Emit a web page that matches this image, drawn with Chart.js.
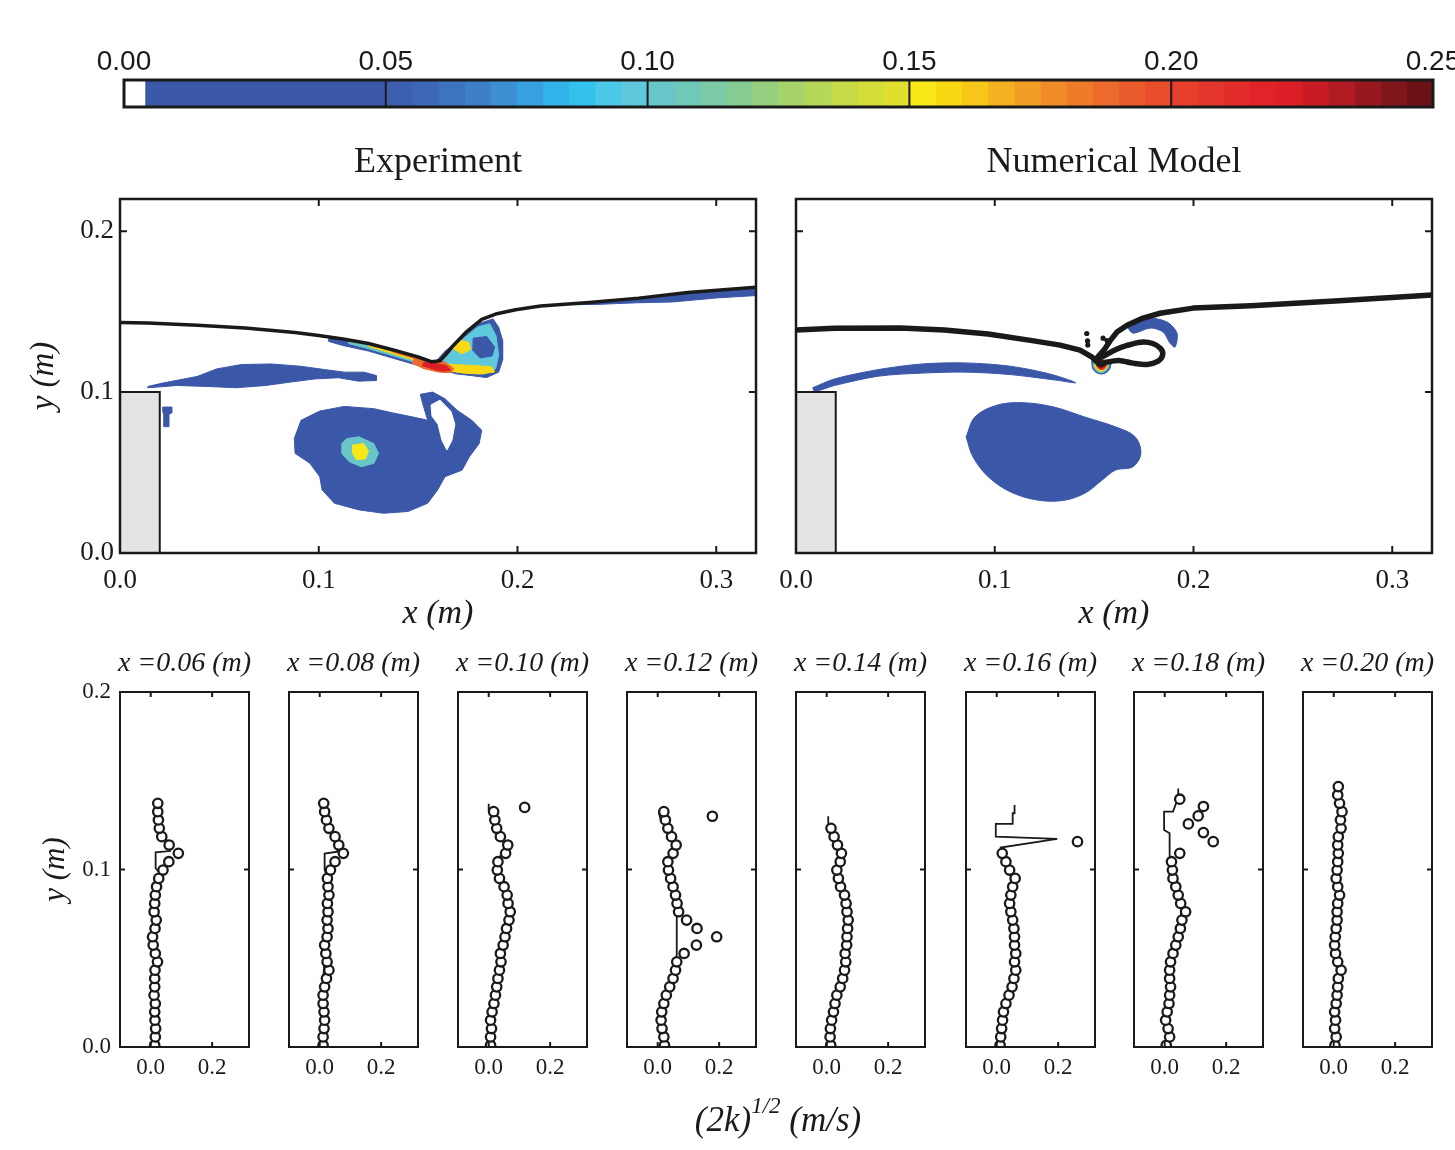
<!DOCTYPE html>
<html>
<head>
<meta charset="utf-8">
<title>Turbulence intensity behind a submerged step</title>
<script src="https://cdn.jsdelivr.net/npm/chart.js@4.4.1/dist/chart.umd.min.js"></script>
<style>
  html, body { margin: 0; padding: 0; background: #fff; overflow: hidden; }
  #fig { position: relative; width: 1455px; height: 1150px; overflow: hidden; background: #fff; }
  #fig canvas { position: absolute; }
</style>
</head>
<body>
<div id="fig"></div>
<script>
// ---------------- colour scale of (2k)^1/2 ----------------
const cbBounds = [0, 0.004, 0.05,
  0.055, 0.06, 0.065, 0.07, 0.075, 0.08, 0.085, 0.09, 0.095, 0.10,
  0.105, 0.11, 0.115, 0.12, 0.125, 0.13, 0.135, 0.14, 0.145, 0.15,
  0.155, 0.16, 0.165, 0.17, 0.175, 0.18, 0.185, 0.19, 0.195, 0.20,
  0.205, 0.21, 0.215, 0.22, 0.225, 0.23, 0.235, 0.24, 0.245, 0.25];
const cbColors = ['#ffffff', '#3b57a8',
  '#3c5fb0', '#3d68b8', '#3e73c0', '#3d80c8', '#3b8fd2', '#37a0de', '#31b4ea', '#33c2ee', '#4cc7e8', '#5fc8dc',
  '#68c6c8', '#70c8b8', '#7acaa6', '#86cc92', '#96cf7e', '#a6d36a', '#b6d658', '#c6da48', '#d4dd3a', '#e0df30',
  '#f8e818', '#f8d812', '#f6c618', '#f4b220', '#f29e24', '#f08c28', '#ee7a2a', '#ec6a2c', '#ea5c2c', '#e84e2c',
  '#e6402c', '#e4362c', '#e22c2a', '#e02428', '#dc1e26', '#c81c24', '#b01a22', '#981820', '#80161c', '#6a1216'];
const cbTicks = [0, 0.05, 0.10, 0.15, 0.20, 0.25];

// ---------------- axes of the field plots and profiles ----------------
const fieldXTicks = [0, 0.1, 0.2, 0.3];
const fieldYTicks = [0, 0.1, 0.2];
const profXTicks = [0, 0.2];
const profYTicks = [0, 0.1, 0.2];
const panelTitles = ['Experiment', 'Numerical Model'];

// step (obstacle) outline, x and y in metres
const stepBlock = [[0, 0], [0.02, 0], [0.02, 0.1], [0, 0.1]];

// ---------------- measured field (left panel) ----------------
const expSurface = [[0, 0.1433], [0.014, 0.1429], [0.039, 0.1416], [0.063, 0.1398], [0.088, 0.1371], [0.1, 0.1352],
  [0.113, 0.1328], [0.125, 0.1302], [0.1375, 0.1262], [0.15, 0.1218], [0.157, 0.1188], [0.161, 0.1195], [0.164, 0.1235],
  [0.167, 0.128], [0.1746, 0.1378], [0.182, 0.1452], [0.189, 0.1485], [0.199, 0.1512], [0.2116, 0.1535], [0.236, 0.1557],
  [0.261, 0.1584], [0.2857, 0.1619], [0.32, 0.1652]];
const expStreak = [[0.014, 0.1035], [0.0215, 0.1056], [0.0388, 0.1097], [0.0486, 0.1144], [0.061, 0.1171], [0.0758, 0.1175],
  [0.0906, 0.1161], [0.103, 0.114], [0.1128, 0.1124], [0.1227, 0.1124], [0.1289, 0.1103], [0.1289, 0.1072], [0.12, 0.1068],
  [0.11, 0.1089], [0.098, 0.1082], [0.0857, 0.1062], [0.0733, 0.1041], [0.0585, 0.1027], [0.0437, 0.1035], [0.0289, 0.1041],
  [0.014, 0.1027]];
const expSpeck = [[0.0215, 0.0907], [0.026, 0.0907], [0.026, 0.087], [0.0245, 0.086], [0.0245, 0.0785], [0.022, 0.0785],
  [0.022, 0.086], [0.0215, 0.088]];
const expVortex = [[0.0877, 0.0711], [0.0911, 0.0825], [0.1005, 0.0882], [0.1128, 0.0911], [0.1277, 0.0897], [0.1375, 0.087],
  [0.1474, 0.0845], [0.1548, 0.0825], [0.1523, 0.0928], [0.1511, 0.0986], [0.1573, 0.1], [0.1635, 0.0959], [0.1696, 0.0887],
  [0.177, 0.0825], [0.182, 0.0763], [0.1807, 0.068], [0.1758, 0.0598], [0.1721, 0.0515], [0.1635, 0.0474], [0.1598, 0.0392],
  [0.1548, 0.0309], [0.1449, 0.0258], [0.1326, 0.0247], [0.1202, 0.0268], [0.1079, 0.0309], [0.1017, 0.0392], [0.1005, 0.0474],
  [0.0956, 0.0557], [0.0881, 0.0619]];
const expVortexGap = [[0.1565, 0.092], [0.161, 0.095], [0.1665, 0.088], [0.1685, 0.08], [0.167, 0.07], [0.1645, 0.064],
  [0.162, 0.07], [0.16, 0.08], [0.157, 0.085]];
const expCoreMid = [[0.1116, 0.068], [0.1141, 0.0711], [0.1202, 0.0722], [0.1277, 0.068], [0.1301, 0.0619], [0.1277, 0.0557],
  [0.1215, 0.0536], [0.1153, 0.0567], [0.1116, 0.0619]];
const expCoreHigh = [[0.117, 0.067], [0.1225, 0.068], [0.125, 0.0635], [0.1235, 0.0585], [0.119, 0.058], [0.117, 0.062]];
const expBreakOuter = [[0.1585, 0.1186], [0.1636, 0.1255], [0.1721, 0.134], [0.1802, 0.1425], [0.1877, 0.1455], [0.1905, 0.1404],
  [0.1925, 0.1323], [0.1925, 0.1199], [0.1905, 0.1124], [0.1845, 0.109], [0.1772, 0.1102], [0.1686, 0.1114], [0.16, 0.1155]];
const expBreakMid = [[0.161, 0.1195], [0.166, 0.1262], [0.173, 0.1335], [0.18, 0.1405], [0.186, 0.1425], [0.1892, 0.135],
  [0.1905, 0.123], [0.189, 0.1145], [0.1835, 0.1112], [0.175, 0.1122], [0.167, 0.1132], [0.1615, 0.1165]];
const expBreakHighA = [[0.1675, 0.127], [0.171, 0.1322], [0.1755, 0.131], [0.1765, 0.1265], [0.172, 0.1238]];
const expBreakHighB = [[0.163, 0.1175], [0.17, 0.117], [0.178, 0.1165], [0.187, 0.1158], [0.1885, 0.1125], [0.181, 0.1112],
  [0.172, 0.1119], [0.165, 0.1132], [0.162, 0.1155]];
const expBreakLow = [[0.1777, 0.1335], [0.1845, 0.1345], [0.1885, 0.128], [0.1872, 0.1225], [0.1812, 0.1212], [0.1775, 0.126]];
const expShearLow = [[0.105, 0.1335], [0.125, 0.1295], [0.1375, 0.1255], [0.15, 0.121], [0.157, 0.118], [0.158, 0.1145],
  [0.15, 0.1165], [0.1375, 0.121], [0.125, 0.1255], [0.112, 0.129], [0.105, 0.1315]];
const expShearMid = [[0.115, 0.1318], [0.125, 0.1297], [0.1375, 0.1257], [0.15, 0.1212], [0.157, 0.1182], [0.157, 0.1155],
  [0.15, 0.118], [0.1375, 0.1225], [0.125, 0.127], [0.115, 0.1302]];
const expShearHigh = [[0.125, 0.1298], [0.1375, 0.1258], [0.15, 0.1213], [0.157, 0.1183], [0.157, 0.1165], [0.15, 0.1192],
  [0.1375, 0.1238], [0.125, 0.1285]];
const expShearTop = [[0.137, 0.1259], [0.15, 0.1214], [0.157, 0.1184], [0.157, 0.1172], [0.15, 0.1202], [0.137, 0.125]];
const expJetHalo = [[0.148, 0.1205], [0.156, 0.1195], [0.163, 0.119], [0.168, 0.1145], [0.166, 0.112], [0.16, 0.1125],
  [0.153, 0.1145], [0.147, 0.118]];
const expJetCore = [[0.153, 0.1185], [0.158, 0.118], [0.164, 0.1165], [0.1665, 0.1135], [0.162, 0.113], [0.157, 0.1145],
  [0.152, 0.1165]];
const expCrestBand = [[0.228, 0.1548], [0.261, 0.1582], [0.2857, 0.1617], [0.32, 0.165], [0.32, 0.16], [0.3, 0.1585],
  [0.278, 0.156], [0.26, 0.1555], [0.24, 0.1545], [0.228, 0.1543]];

// ---------------- computed field (right panel) ----------------
const numSurface = [[0, 0.1386], [0.0194, 0.1396], [0.0525, 0.1398], [0.0746, 0.1386], [0.0967, 0.1361], [0.1188, 0.132],
  [0.1329, 0.1292], [0.1429, 0.1261], [0.149, 0.1217], [0.1505, 0.1199], [0.155, 0.1262], [0.158, 0.1318], [0.1615, 0.1373],
  [0.1666, 0.1416], [0.1746, 0.146], [0.1832, 0.149], [0.1998, 0.1522], [0.229, 0.1536], [0.2733, 0.1567], [0.3212, 0.1604]];
const numLoop = [[0.1505, 0.1199], [0.155, 0.1225], [0.1605, 0.1262], [0.1666, 0.129], [0.1735, 0.131], [0.1795, 0.1302],
  [0.1835, 0.127], [0.1845, 0.1232], [0.1822, 0.1192], [0.1766, 0.1172], [0.1696, 0.118], [0.1625, 0.1196], [0.1565, 0.1186],
  [0.153, 0.1172], [0.1505, 0.1199]];
const numSplash = [[0.1463, 0.1364], [0.1467, 0.1318], [0.1468, 0.1292], [0.1545, 0.1335], [0.1565, 0.132]];
const numShear = [[0.0084, 0.1027], [0.0194, 0.1082], [0.0415, 0.114], [0.0636, 0.1175], [0.0856, 0.1181], [0.1077, 0.1161],
  [0.1276, 0.1113], [0.1408, 0.1058], [0.1298, 0.1076], [0.1077, 0.1109], [0.0856, 0.1124], [0.0636, 0.1118], [0.0415, 0.1099],
  [0.0194, 0.1041], [0.0095, 0.1004]];
const numVortex = [[0.0856, 0.0722], [0.09, 0.0845], [0.101, 0.0918], [0.1143, 0.0934], [0.1298, 0.0907], [0.1453, 0.0845],
  [0.1607, 0.0784], [0.1706, 0.0722], [0.1735, 0.0619], [0.1695, 0.0536], [0.1607, 0.0515], [0.1541, 0.0454], [0.1453, 0.0371],
  [0.1342, 0.0326], [0.121, 0.033], [0.1077, 0.0381], [0.0967, 0.0474], [0.089, 0.0598]];
const numCurl = [[0.1666, 0.1404], [0.1766, 0.146], [0.1867, 0.1435], [0.1917, 0.1366], [0.1907, 0.128], [0.1882, 0.1304],
  [0.1847, 0.1373], [0.1782, 0.1398], [0.1696, 0.1366]];
const numJetRings = [
  { level: 0.03,  shape: [[0.1488, 0.1195], [0.1492, 0.1148], [0.151, 0.1122], [0.1535, 0.1112], [0.1562, 0.1122], [0.158, 0.1148], [0.1582, 0.1195]] },
  { level: 0.10,  shape: [[0.1495, 0.1195], [0.1499, 0.1152], [0.1515, 0.1129], [0.1535, 0.112], [0.1556, 0.1129], [0.1572, 0.1152], [0.1575, 0.1195]] },
  { level: 0.155, shape: [[0.1502, 0.1195], [0.1506, 0.1157], [0.152, 0.1136], [0.1535, 0.1129], [0.155, 0.1136], [0.1565, 0.1157], [0.1568, 0.1195]] },
  { level: 0.22,  shape: [[0.151, 0.1195], [0.1513, 0.1162], [0.1525, 0.1145], [0.1537, 0.114], [0.1549, 0.1145], [0.156, 0.1162], [0.156, 0.1195]] },
  { level: 0.245, shape: [[0.1518, 0.1195], [0.152, 0.1168], [0.153, 0.1155], [0.154, 0.1155], [0.155, 0.1168], [0.155, 0.1195]] }
];

// ---------------- vertical profiles of (2k)^1/2 ----------------
const stations = [0.06, 0.08, 0.10, 0.12, 0.14, 0.16, 0.18, 0.20];
// measurement heights (m) shared by all stations
const yGrid = [0.001, 0.0057, 0.0104, 0.0151, 0.0198, 0.0245, 0.0292, 0.0339, 0.0386, 0.0433, 0.048, 0.0527, 0.0574,
  0.0621, 0.0668, 0.0715, 0.0762, 0.0809, 0.0856, 0.0903, 0.095, 0.0997, 0.1044, 0.1091, 0.1138, 0.1185, 0.1232, 0.1279,
  0.1326, 0.1373, 0.142, 0.1467];
// measured (2k)^1/2 at the heights above, bottom up
const obs06 = [0.013, 0.015, 0.016, 0.014, 0.013, 0.015, 0.011, 0.013, 0.013, 0.014, 0.022, 0.015, 0.008, 0.006, 0.014, 0.018,
  0.011, 0.013, 0.015, 0.019, 0.026, 0.04, 0.059, 0.09, 0.06, 0.036, 0.028, 0.025, 0.023, 0.023];
const obs08 = [0.011, 0.011, 0.014, 0.016, 0.014, 0.011, 0.011, 0.016, 0.022, 0.03, 0.024, 0.02, 0.016, 0.024, 0.027, 0.024,
  0.027, 0.025, 0.03, 0.027, 0.025, 0.035, 0.05, 0.077, 0.062, 0.05, 0.03, 0.022, 0.016, 0.013];
const obs10 = [0.006, 0.006, 0.009, 0.006, 0.011, 0.017, 0.022, 0.026, 0.03, 0.035, 0.04, 0.038, 0.047, 0.053, 0.058, 0.066,
  0.07, 0.063, 0.06, 0.05, 0.035, 0.028, 0.03, 0.055, 0.062, 0.038, 0.026, 0.02, 0.016];
const obs12 = [0.022, 0.02, 0.014, 0.011, 0.013, 0.02, 0.028, 0.039, 0.05, 0.058, 0.062, 0.086, 0.126, 0.192, 0.128, 0.094,
  0.068, 0.063, 0.058, 0.05, 0.042, 0.035, 0.033, 0.05, 0.06, 0.045, 0.033, 0.025, 0.02];
const obs14 = [0.013, 0.011, 0.012, 0.016, 0.022, 0.027, 0.033, 0.044, 0.052, 0.058, 0.062, 0.06, 0.065, 0.066, 0.068, 0.07,
  0.066, 0.063, 0.058, 0.045, 0.038, 0.033, 0.044, 0.048, 0.035, 0.024, 0.014];
const obs16 = [0.011, 0.013, 0.016, 0.019, 0.022, 0.03, 0.04, 0.05, 0.056, 0.062, 0.058, 0.062, 0.058, 0.058, 0.056, 0.052,
  0.046, 0.042, 0.046, 0.052, 0.06, 0.042, 0.03, 0.018];
const obs18 = [0.005, 0.016, 0.011, 0.003, 0.008, 0.014, 0.016, 0.019, 0.016, 0.016, 0.019, 0.027, 0.036, 0.044, 0.051, 0.056,
  0.068, 0.052, 0.044, 0.036, 0.027, 0.025, 0.022, 0.049];
const obs20 = [0.004, 0.008, 0.003, 0.006, 0.003, 0.008, 0.011, 0.013, 0.015, 0.024, 0.013, 0.006, 0.003, 0.005, 0.008, 0.011,
  0.011, 0.013, 0.019, 0.013, 0.008, 0.011, 0.013, 0.015, 0.013, 0.015, 0.024, 0.022, 0.027, 0.019, 0.013, 0.015];
// scattered measurements in the aerated crest, [(2k)^1/2, y]
const spray10 = [[0.117, 0.135]];
const spray12 = [[0.178, 0.13]];
const spray16 = [[0.263, 0.1157]];
const spray18 = [[0.158, 0.1157], [0.126, 0.1208], [0.077, 0.1257], [0.109, 0.1302], [0.126, 0.1355], [0.049, 0.1396]];
// model profiles, [(2k)^1/2, y]
const model06 = [[0.013, 0], [0.016, 0.017], [0.014, 0.036], [0.016, 0.055], [0.019, 0.073], [0.024, 0.092], [0.03, 0.098],
  [0.016, 0.1007], [0.016, 0.1097], [0.063, 0.1104], [0.06, 0.1148], [0.035, 0.1204], [0.025, 0.1298], [0.023, 0.1398]];
const model08 = [[0.011, 0], [0.013, 0.02], [0.012, 0.04], [0.018, 0.06], [0.022, 0.08], [0.025, 0.095], [0.016, 0.1],
  [0.016, 0.109], [0.058, 0.11], [0.056, 0.116], [0.035, 0.122], [0.02, 0.13], [0.012, 0.137]];
const model10 = [[0.004, 0], [0.008, 0.015], [0.02, 0.03], [0.035, 0.045], [0.05, 0.055], [0.065, 0.07], [0.068, 0.078],
  [0.058, 0.088], [0.035, 0.095], [0.024, 0.1], [0.03, 0.106], [0.058, 0.112], [0.04, 0.118], [0.022, 0.124], [0.01, 0.13],
  [0.0, 0.133], [0.0, 0.137]];
const model12 = [[0.02, 0], [0.012, 0.015], [0.015, 0.025], [0.035, 0.035], [0.055, 0.045], [0.062, 0.052], [0.062, 0.075],
  [0.066, 0.078], [0.055, 0.088], [0.04, 0.097], [0.035, 0.102], [0.058, 0.11], [0.045, 0.118], [0.03, 0.124], [0.01, 0.128],
  [0.005, 0.131], [0.005, 0.133]];
const model14 = [[0.012, 0], [0.02, 0.02], [0.035, 0.03], [0.055, 0.04], [0.064, 0.05], [0.068, 0.065], [0.066, 0.075],
  [0.06, 0.083], [0.045, 0.09], [0.035, 0.097], [0.045, 0.108], [0.03, 0.117], [0.015, 0.122], [0.005, 0.126], [0.005, 0.13]];
const model16 = [[0.01, 0], [0.015, 0.015], [0.025, 0.025], [0.045, 0.035], [0.058, 0.045], [0.062, 0.06], [0.058, 0.075],
  [0.048, 0.083], [0.045, 0.088], [0.056, 0.094], [0.035, 0.103], [0.02, 0.108], [0.013, 0.1124], [0.197, 0.1172],
  [-0.003, 0.1185], [-0.003, 0.1257], [0.052, 0.1257], [0.052, 0.1317], [0.058, 0.1317], [0.058, 0.1364]];
const model18 = [[0.005, 0], [0.012, 0.02], [0.016, 0.04], [0.02, 0.05], [0.035, 0.06], [0.05, 0.07], [0.055, 0.078],
  [0.045, 0.085], [0.03, 0.095], [0.02, 0.103], [0.016, 0.108], [0.016, 0.1204], [-0.002, 0.1223], [-0.002, 0.1326],
  [0.027, 0.1326], [0.044, 0.1405], [0.044, 0.1457]];
const model20 = [[0.005, 0], [0.008, 0.03], [0.015, 0.045], [0.008, 0.06], [0.012, 0.085], [0.01, 0.1], [0.015, 0.12],
  [0.02, 0.135], [0.015, 0.148]];

// ---------------- helpers ----------------
const SERIF = "'Liberation Serif', 'Times New Roman', serif";
const SANS = "'Liberation Sans', Arial, sans-serif";
const INK = '#1a1a1a';
Chart.defaults.font.family = SERIF;
Chart.defaults.color = INK;

function levelColor(v) {
  for (let i = 0; i < cbColors.length; i++) if (v < cbBounds[i + 1]) return cbColors[i];
  return cbColors[cbColors.length - 1];
}
const toXY = arr => arr.map(p => ({ x: p[0], y: p[1] }));

function region(points, fillColor, edge, edgeWidth, smooth) {
  const d = toXY(points);
  d.push({ x: points[0][0], y: points[0][1] });
  return { data: d, showLine: true, fill: 'shape', backgroundColor: fillColor, borderColor: edge || fillColor,
           borderWidth: edgeWidth === undefined ? 1 : edgeWidth, pointRadius: 0, tension: smooth || 0 };
}
const contour = (points, level, smooth) => region(points, levelColor(level), null, 1, smooth);
function curve(points, width, smooth) {
  return { data: toXY(points), showLine: true, fill: false, borderColor: INK, borderWidth: width, pointRadius: 0,
           tension: smooth || 0, borderJoinStyle: 'round', borderCapStyle: 'round' };
}
// first entry is painted first (lowest)
function stack(list) { const n = list.length; list.forEach((ds, i) => { ds.order = n - i; }); return list; }

const fig = document.getElementById('fig');
function addCanvas(b) {
  const c = document.createElement('canvas');
  const w = b.W + b.ml + b.mr, h = b.H + b.mt + b.mb;
  c.width = w; c.height = h;
  c.style.left = (b.L - b.ml) + 'px'; c.style.top = (b.T - b.mt) + 'px';
  c.style.width = w + 'px'; c.style.height = h + 'px';
  fig.appendChild(c);
  return c;
}

// box frame with inward tick marks
const framePlugin = {
  id: 'frame',
  afterDatasetsDraw(chart, args, o) {
    if (!o || !o.frameWidth) return;
    const { ctx, chartArea: a, scales } = chart;
    ctx.save();
    ctx.strokeStyle = INK;
    ctx.lineWidth = o.tickWidth;
    ctx.beginPath();
    (o.xTicks || []).forEach(v => {
      const p = scales.x.getPixelForValue(v);
      if (p < a.left + 2 || p > a.right - 2) return;
      if (o.full) { ctx.moveTo(p, a.top); ctx.lineTo(p, a.bottom); }
      else { ctx.moveTo(p, a.bottom); ctx.lineTo(p, a.bottom - o.tickLen); ctx.moveTo(p, a.top); ctx.lineTo(p, a.top + o.tickLen); }
    });
    (o.yTicks || []).forEach(v => {
      const p = scales.y.getPixelForValue(v);
      if (p < a.top + 2 || p > a.bottom - 2) return;
      ctx.moveTo(a.left, p); ctx.lineTo(a.left + o.tickLen, p);
      ctx.moveTo(a.right, p); ctx.lineTo(a.right - o.tickLen, p);
    });
    ctx.stroke();
    ctx.lineWidth = o.frameWidth;
    ctx.strokeRect(a.left, a.top, a.right - a.left, a.bottom - a.top);
    ctx.restore();
  }
};
// heading centred over the plot area
const headingPlugin = {
  id: 'heading',
  afterDraw(chart, args, o) {
    if (!o || !o.text) return;
    const { ctx, chartArea: a } = chart;
    ctx.save();
    ctx.font = o.font; ctx.fillStyle = INK; ctx.textAlign = 'center'; ctx.textBaseline = 'middle';
    ctx.fillText(o.text, (a.left + a.right) / 2, a.top - o.gap);
    ctx.restore();
  }
};
// shared quantity label with a superscript under the profile row
const quantityPlugin = {
  id: 'quantity',
  afterDraw(chart, args, o) {
    if (!o || !o.parts) return;
    const { ctx, chartArea: a } = chart;
    const parts = [];
    for (let i = 0; i < o.parts.length; i++) parts.push({ text: o.parts[i].text, font: o.parts[i].font, rise: o.parts[i].rise || 0 });
    ctx.save();
    ctx.fillStyle = INK; ctx.textBaseline = 'alphabetic'; ctx.textAlign = 'left';
    let total = 0;
    parts.forEach(p => { ctx.font = p.font; p.w = ctx.measureText(p.text).width; total += p.w; });
    let x = a.left + o.dx - total / 2;
    const y = a.bottom + o.dy;
    parts.forEach(p => { ctx.font = p.font; ctx.fillText(p.text, x, y + p.rise); x += p.w; });
    ctx.restore();
  }
};
const plugins = [framePlugin, headingPlugin, quantityPlugin];
const common = { responsive: false, animation: false, devicePixelRatio: 1, events: [] };
const quiet = { legend: { display: false }, tooltip: { enabled: false } };
const setTicks = list => s => { s.ticks = list.map(v => ({ value: v })); };

// ---------------- colour bar ----------------
(function () {
  const b = { L: 124, T: 80, W: 1309, H: 27, ml: 40, mt: 50, mr: 40, mb: 10 };
  const datasets = cbColors.map((c, i) => ({
    data: [[cbBounds[i], cbBounds[i + 1]]], backgroundColor: c, borderWidth: 0, grouped: false,
    barPercentage: 1, categoryPercentage: 1
  }));
  new Chart(addCanvas(b), {
    type: 'bar',
    data: { labels: ['(2k)^1/2'], datasets },
    plugins,
    options: Object.assign({}, common, {
      indexAxis: 'y',
      layout: { padding: { left: b.ml, right: b.mr, top: 0, bottom: b.mb } },
      scales: {
        x: { type: 'linear', position: 'top', min: 0, max: 0.25, afterBuildTicks: setTicks(cbTicks),
             afterFit: s => { s.height = b.mt; },
             ticks: { font: { family: SANS, size: 28, lineHeight: 1 }, color: INK, padding: 4, callback: v => Number(v).toFixed(2) },
             grid: { display: false, drawTicks: false }, border: { display: false } },
        y: { type: 'category', display: false }
      },
      plugins: Object.assign({}, quiet, { frame: { frameWidth: 3, tickWidth: 2, full: true, xTicks: cbTicks } })
    })
  });
})();

// ---------------- field panels ----------------
function fieldChart(b, title, datasets, showY) {
  return new Chart(addCanvas(b), {
    type: 'scatter',
    data: { datasets },
    plugins,
    options: Object.assign({}, common, {
      layout: { padding: { left: 0, right: b.mr, top: b.mt, bottom: 0 } },
      scales: {
        x: { type: 'linear', min: 0, max: 0.32, afterBuildTicks: setTicks(fieldXTicks), afterFit: s => { s.height = b.mb; },
             ticks: { font: { family: SERIF, size: 27, lineHeight: 1 }, color: INK, padding: 14, callback: v => Number(v).toFixed(1) },
             grid: { display: false, drawTicks: false }, border: { display: false },
             title: { display: true, text: 'x (m)', color: INK, font: { family: SERIF, size: 34, style: 'italic', lineHeight: 1 },
                      padding: { top: 0, bottom: 22 } } },
        y: { type: 'linear', min: 0, max: 0.22, afterBuildTicks: setTicks(fieldYTicks), afterFit: s => { s.width = b.ml; },
             ticks: { display: showY, font: { family: SERIF, size: 27, lineHeight: 1 }, color: INK, padding: 6,
                      callback: v => Number(v).toFixed(1) },
             grid: { display: false, drawTicks: false }, border: { display: false },
             title: { display: showY, text: 'y (m)', color: INK, font: { family: SERIF, size: 33, style: 'italic', lineHeight: 1 },
                      padding: { top: 28, bottom: 0 } } }
      },
      plugins: Object.assign({}, quiet, {
        frame: { frameWidth: 2.5, tickWidth: 2, tickLen: 7, xTicks: fieldXTicks, yTicks: fieldYTicks },
        heading: { text: title, font: '36px ' + SERIF, gap: 36 }
      })
    })
  });
}

const expSets = stack([
  contour(expStreak, 0.03),
  contour(expSpeck, 0.03),
  contour(expVortex, 0.03),
  contour(expVortexGap, 0),
  contour(expCoreMid, 0.10),
  contour(expCoreHigh, 0.15),
  contour(expBreakOuter, 0.03),
  contour(expBreakMid, 0.095),
  contour(expBreakHighA, 0.155),
  contour(expBreakHighB, 0.155),
  contour(expBreakLow, 0.03),
  contour(expShearLow, 0.03),
  contour(expShearMid, 0.10),
  contour(expShearHigh, 0.155),
  contour(expShearTop, 0.185),
  contour(expJetHalo, 0.185),
  contour(expJetCore, 0.22),
  contour(expCrestBand, 0.03),
  region(stepBlock, '#e4e4e4', INK, 2),
  curve(expSurface, 3.5)
]);
fieldChart({ L: 120, T: 199, W: 636, H: 354, ml: 120, mt: 80, mr: 12, mb: 100 }, panelTitles[0], expSets, true);

const numSets = stack([
  contour(numShear, 0.03, 0.3),
  contour(numVortex, 0.03, 0.35),
  contour(numCurl, 0.03, 0.3),
  ...numJetRings.map(r => contour(r.shape, r.level, 0.3)),
  region(stepBlock, '#e4e4e4', INK, 2),
  curve(numSurface, 5.5),
  curve(numLoop, 5.5, 0.3),
  { data: toXY(numSplash), showLine: false, pointRadius: 2.6, backgroundColor: INK, borderColor: INK, borderWidth: 0 }
]);
fieldChart({ L: 796, T: 199, W: 636, H: 354, ml: 40, mt: 80, mr: 12, mb: 100 }, panelTitles[1], numSets, false);

// ---------------- profile panels ----------------
const profileObs = [obs06, obs08, obs10, obs12, obs14, obs16, obs18, obs20];
const profileSpray = [[], [], spray10, spray12, [], spray16, spray18, []];
const profileModel = [model06, model08, model10, model12, model14, model16, model18, model20];
const profileLeft = [120, 289, 458, 627, 796, 966, 1134, 1303];

stations.forEach((xs, i) => {
  const first = i === 0;
  const labelled = i === 4;
  const b = { L: profileLeft[i], T: 692, W: 129, H: 355, ml: first ? 120 : (labelled ? 110 : 24), mt: 50, mr: 24, mb: 100 };
  const measured = profileObs[i].map((k, j) => ({ x: k, y: yGrid[j] })).concat(toXY(profileSpray[i]));
  const datasets = [
    { data: measured, showLine: false, pointStyle: 'circle', pointRadius: 4.7, backgroundColor: '#ffffff',
      borderColor: INK, borderWidth: 2.3, order: 1 },
    { data: toXY(profileModel[i]), showLine: true, fill: false, pointRadius: 0, borderColor: INK, borderWidth: 1.8,
      tension: 0, order: 2 }
  ];
  const pl = Object.assign({}, quiet, {
    frame: { frameWidth: 2, tickWidth: 2, tickLen: 5, xTicks: profXTicks, yTicks: profYTicks },
    heading: { text: 'x =' + xs.toFixed(2) + ' (m)', font: 'italic 28px ' + SERIF, gap: 28 }
  });
  if (labelled) {
    pl.quantity = { dx: -18, dy: 84, parts: [
      { text: '(2k)', font: 'italic 35px ' + SERIF },
      { text: '1/2', font: 'italic 23px ' + SERIF, rise: -18 },
      { text: ' (m/s)', font: 'italic 35px ' + SERIF }
    ] };
  }
  new Chart(addCanvas(b), {
    type: 'scatter',
    data: { datasets },
    plugins,
    options: Object.assign({}, common, {
      layout: { padding: { left: 0, right: b.mr, top: b.mt, bottom: 0 } },
      scales: {
        x: { type: 'linear', min: -0.1, max: 0.32, afterBuildTicks: setTicks(profXTicks), afterFit: s => { s.height = b.mb; },
             ticks: { font: { family: SERIF, size: 23, lineHeight: 1 }, color: INK, padding: 9.5, callback: v => Number(v).toFixed(1) },
             grid: { display: false, drawTicks: false }, border: { display: false } },
        y: { type: 'linear', min: 0, max: 0.2, afterBuildTicks: setTicks(profYTicks), afterFit: s => { s.width = b.ml; },
             ticks: { display: first, font: { family: SERIF, size: 23, lineHeight: 1 }, color: INK, padding: 9,
                      callback: v => Number(v).toFixed(1) },
             grid: { display: false, drawTicks: false }, border: { display: false },
             title: { display: first, text: 'y (m)', color: INK, font: { family: SERIF, size: 31, style: 'italic', lineHeight: 1 },
                      padding: { top: 40, bottom: 0 } } }
      },
      plugins: pl
    })
  });
});
</script>
</body>
</html>
